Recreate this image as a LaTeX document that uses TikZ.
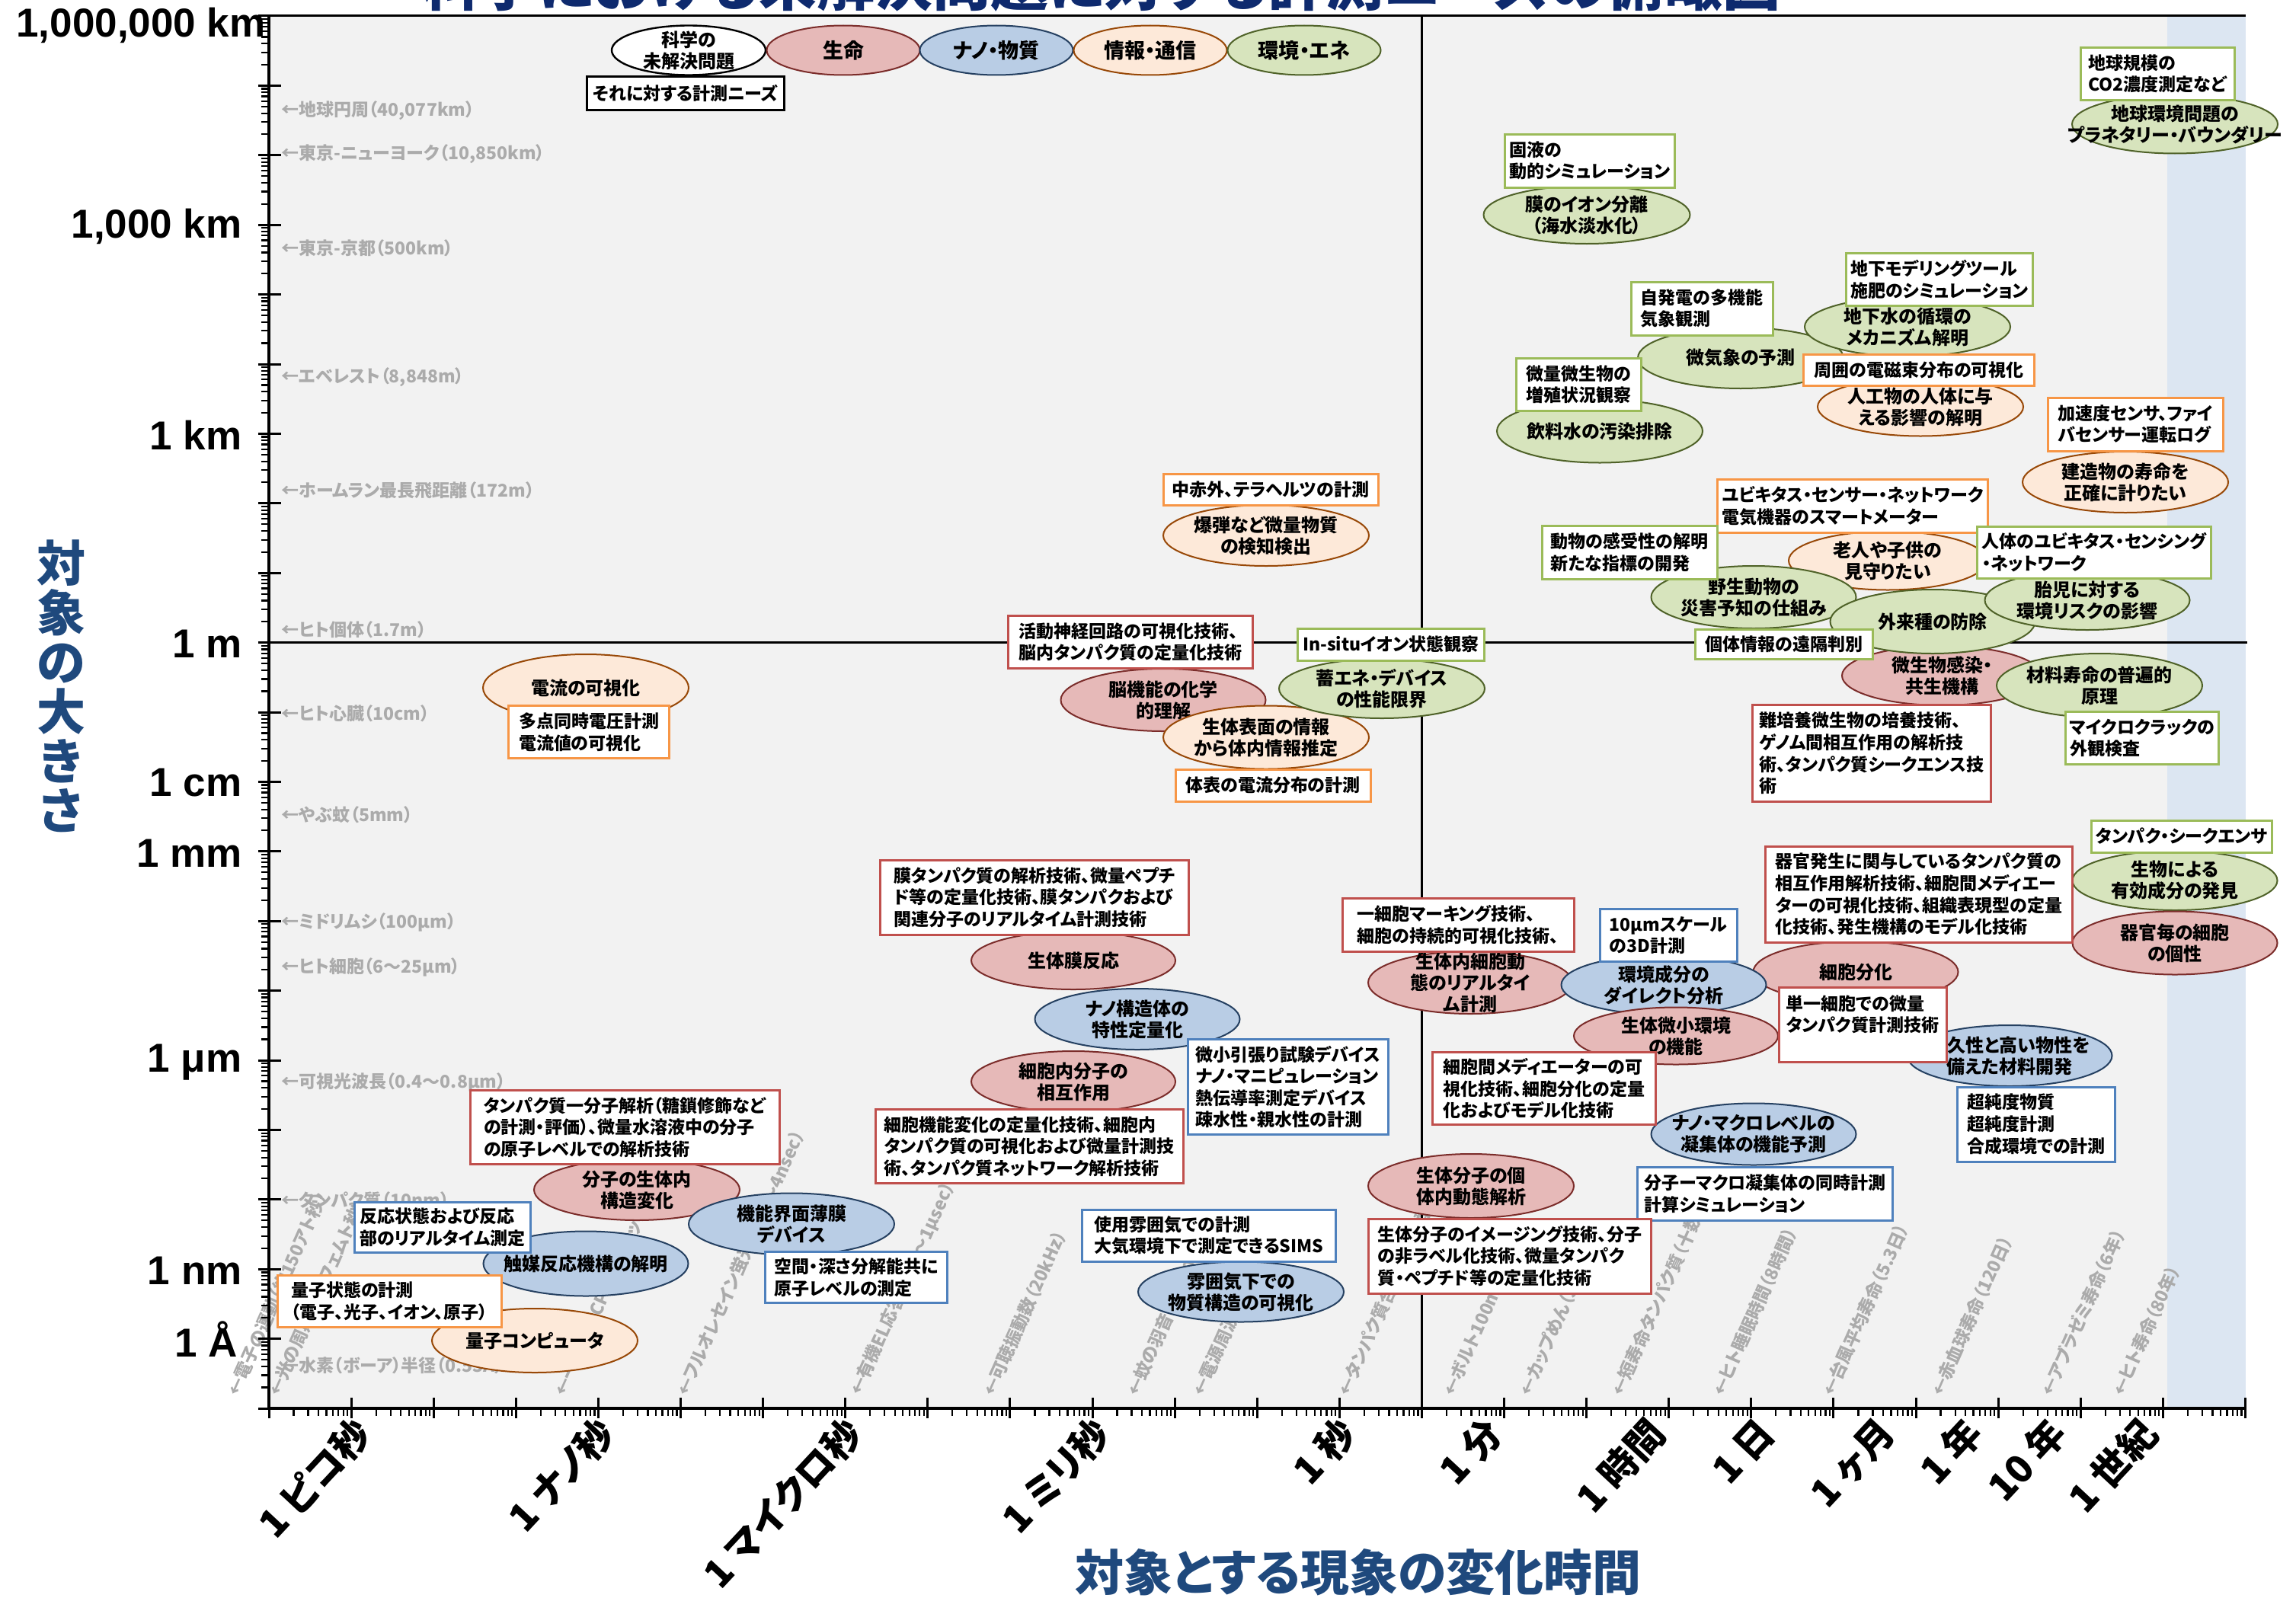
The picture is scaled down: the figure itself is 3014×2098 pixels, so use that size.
\documentclass[tikz,border=0pt]{standalone}
\usepackage{fontspec}
\setmainfont{Noto Sans CJK JP}[RawFeature=+palt]
\newfontfamily\latinfont{Liberation Sans}
\usetikzlibrary{shapes.geometric}
\definecolor{bggray}{HTML}{F2F2F2}
\definecolor{band}{HTML}{DCE6F2}
\definecolor{pinkF}{HTML}{E6B9B8}
\definecolor{pinkD}{HTML}{7B2C2A}
\definecolor{blueF}{HTML}{B9CDE5}
\definecolor{blueD}{HTML}{254061}
\definecolor{peachF}{HTML}{FDE9D9}
\definecolor{peachD}{HTML}{984807}
\definecolor{greenF}{HTML}{D7E4BD}
\definecolor{greenD}{HTML}{4F6228}
\definecolor{bRed}{HTML}{C0504D}
\definecolor{bBlue}{HTML}{4F81BD}
\definecolor{bOrange}{HTML}{F79646}
\definecolor{bGreen}{HTML}{9BBB59}
\definecolor{annot}{HTML}{ABABAB}
\definecolor{axisnavy}{HTML}{1F497D}
\definecolor{titlenavy}{HTML}{0E2A6E}
\newcommand\elfont{\bfseries\fontsize{12}{14}\selectfont}
\newcommand\bxfont{\bfseries\fontsize{11.5}{14.3}\selectfont}
\newcommand\anfont{\bfseries\fontsize{11.5}{13}\selectfont}
\newcommand\ylabfont{\latinfont\bfseries\fontsize{26.5}{28}\selectfont}
\newcommand\xlabfont{\bfseries\fontsize{25}{27}\selectfont}
\newcommand\axlabfont{\bfseries\fontsize{32}{32.5}\selectfont}
\newcommand\mkell[7]{\node[ell,#2,minimum width=#5pt/2,minimum height=#6pt/2] (#1) at (#3,#4) {};\node[etxt] (#1t) at (#1.center) {#7};}
\newcommand\mkbox[7]{\node[bx,draw=#2,minimum width=#5pt/2,minimum height=#6pt/2] (#1) at (#3,#4) {#7};}
\begin{document}
\begin{tikzpicture}[x=0.5pt,y=-0.5pt,
  ell/.style={ellipse,inner sep=0pt,line width=1pt},
  pk/.style={fill=pinkF,draw=pinkD},
  bl/.style={fill=blueF,draw=blueD},
  pc/.style={fill=peachF,draw=peachD},
  gr/.style={fill=greenF,draw=greenD},
  wh/.style={fill=white,draw=black,line width=1.2pt},
  etxt/.style={align=center,inner sep=0pt,font=\elfont},
  bx/.style={rectangle,fill=white,line width=1.5pt,align=left,inner xsep=3pt,inner ysep=1.5pt,font=\bxfont},
  annot/.style={text=annot,inner sep=0pt,font=\anfont},
  ylab/.style={anchor=east,inner sep=0pt,font=\ylabfont},
  xlab/.style={anchor=east,rotate=47,inner sep=0pt,font=\xlabfont},
  axlab/.style={text=axisnavy,font=\axlabfont,inner sep=0pt},
  rann/.style={annot,rotate=66,anchor=west}]
\useasboundingbox (0,0) rectangle (3014,2098);
% title (cut off at top)
\node[anchor=base,text=titlenavy,font=\bfseries\fontsize{38}{40}\selectfont,inner sep=0pt] (title) at (1446,8) {科学における未解決問題に対する計測ニーズの俯瞰図};
% plot background
\fill[bggray] (353,21) rectangle (2845,1849);
\fill[band] (2845,21) rectangle (2948,1849);
% gray reference annotations (size)
\node[annot,anchor=west] (ya1) at (369,145) {←地球円周（40,077km）};
\node[annot,anchor=west] (ya2) at (369,202) {←東京-ニューヨーク（10,850km）};
\node[annot,anchor=west] (ya3) at (369,326) {←東京-京都（500km）};
\node[annot,anchor=west] (ya4) at (369,495) {←エベレスト（8,848m）};
\node[annot,anchor=west] (ya5) at (369,644) {←ホームラン最長飛距離（172m）};
\node[annot,anchor=west] (ya6) at (369,827) {←ヒト個体（1.7m）};
\node[annot,anchor=west] (ya7) at (369,937) {←ヒト心臓（10cm）};
\node[annot,anchor=west] (ya8) at (369,1070) {←やぶ蚊（5mm）};
\node[annot,anchor=west] (ya9) at (369,1211) {←ミドリムシ（100μm）};
\node[annot,anchor=west] (ya10) at (369,1270) {←ヒト細胞（6～25μm）};
\node[annot,anchor=west] (ya11) at (369,1421) {←可視光波長（0.4～0.8μm）};
\node[annot,anchor=west] (ya12) at (369,1576) {←タンパク質（10nm）};
\node[annot,anchor=west] (ya13) at (369,1791) {←水素（ボーア）半径（0.53Å）};
% gray reference annotations (time)
\node[rann] (xa1) at (305,1831) {←電子の運動（約150アト秒）};
\node[rann] (xa2) at (359,1831) {←光の周期（約2フェムト秒）};
\node[rann] (xa3) at (734,1831) {←一般的なCPUのクロック周波数（3GHz）};
\node[rann] (xa4) at (895,1831) {←フルオレセイン蛍光寿命（～4nsec）};
\node[rann] (xa5) at (1123,1831) {←有機EL応答速度（～1μsec）};
\node[rann] (xa6) at (1297,1831) {←可聴振動数（20kHz）};
\node[rann] (xa7) at (1486,1831) {←蚊の羽音（約600Hz）};
\node[rann] (xa8) at (1572,1831) {←電源周波数（50Hz）};
\node[rann] (xa9) at (1763,1831) {←タンパク質合成（アミノ酸1個）};
\node[rann] (xa10) at (1901,1831) {←ボルト100m（9.58秒）};
\node[rann] (xa11) at (2001,1831) {←カップめん（3分）};
\node[rann] (xa12) at (2122,1831) {←短寿命タンパク質（十数分）};
\node[rann] (xa13) at (2255,1831) {←ヒト睡眠時間（8時間）};
\node[rann] (xa14) at (2399,1831) {←台風平均寿命（5.3日）};
\node[rann] (xa15) at (2542,1831) {←赤血球寿命（120日）};
\node[rann] (xa16) at (2686,1831) {←アブラゼミ寿命（6年）};
\node[rann] (xa17) at (2780,1831) {←ヒト寿命（80年）};
% quadrant lines and frame
\draw[line width=1.5pt] (353,21) -- (2948,21);
\draw[line width=1.5pt] (1866,21) -- (1866,1849);
\draw[line width=1.5pt] (353,843.6) -- (2950,843.6);
% axes
\draw[line width=1.8pt] (353,21) -- (353,1849) -- (2948,1849);
\foreach \L in {-11,...,9}{\pgfmathsetmacro\yy{21+(9-\L)*91.4}\draw[line width=1.5pt] (339,\yy) -- (369,\yy);}
\foreach \L in {-11,...,8}{\foreach \k in {2,...,9}{\pgfmathsetmacro\yy{21+(9-\L-log10(\k))*91.4}\draw[line width=1.1pt] (343,\yy) -- (353,\yy);}}
\foreach \D in {-13,...,11}{\pgfmathsetmacro\xx{353+(\D+13)*108.1}\draw[line width=1.5pt] (\xx,1835) -- (\xx,1862);}
\foreach \D in {-13,...,10}{\foreach \k in {2,...,9}{\pgfmathsetmacro\xx{353+(\D+13+log10(\k))*108.1}\draw[line width=1.1pt] (\xx,1849) -- (\xx,1859);}}
% y tick labels
\node[ylab] (yl1) at (349,33) {1,000,000 km};
\node[ylab] (yl2) at (318,297) {1,000 km};
\node[ylab] (yl3) at (318,571) {1 km};
\node[ylab] (yl4) at (318,845) {1 m};
\node[ylab] (yl5) at (318,1028) {1 cm};
\node[ylab] (yl6) at (318,1120) {1 mm};
\node[ylab] (yl7) at (318,1395) {1 μm};
\node[ylab] (yl8) at (318,1668) {1 nm};
\node[ylab] (yl9) at (312,1758) {1 Å};
% x tick labels
\node[xlab] (xl1) at (477,1872) {1 ピコ秒};
\node[xlab] (xl2) at (797,1872) {1 ナノ秒};
\node[xlab] (xl3) at (1122,1872) {1 マイクロ秒};
\node[xlab] (xl4) at (1447,1872) {1 ミリ秒};
\node[xlab] (xl5) at (1770,1872) {1 秒};
\node[xlab] (xl6) at (1962,1872) {1 分};
\node[xlab] (xl7) at (2176,1872) {1 時間};
\node[xlab] (xl8) at (2320,1872) {1 日};
\node[xlab] (xl9) at (2478,1872) {1 ヶ月};
\node[xlab] (xl10) at (2592,1872) {1 年};
\node[xlab] (xl11) at (2702,1872) {10 年};
\node[xlab] (xl12) at (2822,1872) {1 世紀};
% axis titles
\node[axlab,align=center] (ytitle) at (80,901) {対\\象\\の\\大\\き\\さ};
\node[axlab] (xtitle) at (1783,2064) {対象とする現象の変化時間};
% legend
\mkbox{lgb}{black}{900}{123}{259}{44}{それに対する計測ニーズ}
\mkell{lg1}{wh}{904}{66}{202}{65}{科学の\\未解決問題}
\mkell{lg2}{pk}{1107}{66}{201}{65}{\fontsize{13.5}{15}\selectfont 生命}
\mkell{lg3}{bl}{1308}{66}{201}{65}{\fontsize{13.5}{15}\selectfont ナノ・物質}
\mkell{lg4}{pc}{1510}{66}{201}{65}{\fontsize{13.5}{15}\selectfont 情報・通信}
\mkell{lg5}{gr}{1712}{66}{201}{65}{\fontsize{13.5}{15}\selectfont 環境・エネ}
% ---- top-left quadrant
\mkell{e1}{pc}{769}{903}{270}{88}{電流の可視化}
\mkbox{b1}{bOrange}{773}{961}{211}{69}{多点同時電圧計測\\電流値の可視化}
\mkell{e13}{pc}{1662}{703}{270}{80}{爆弾など微量物質\\の検知検出}
\mkbox{b13}{bOrange}{1668}{643}{282}{41}{中赤外、テラヘルツの計測}
\mkell{e10}{pk}{1527}{919}{269}{82}{脳機能の化学\\的理解}
\mkell{e11}{pc}{1662}{968}{270}{83}{生体表面の情報\\から体内情報推定}
\mkell{e12}{gr}{1814}{904}{270}{78}{蓄エネ・デバイス\\の性能限界}
\mkbox{b10}{bRed}{1484}{843}{321}{69}{活動神経回路の可視化技術、\\脳内タンパク質の定量化技術}
\mkbox{b11}{bOrange}{1671}{1031}{256}{42}{体表の電流分布の計測}
\mkbox{b12}{bGreen}{1826}{846}{245}{42}{In-situイオン状態観察}
% ---- bottom-left quadrant
\mkell{e9}{pk}{1409}{1261}{268}{76}{生体膜反応}
\mkbox{b9}{bRed}{1358}{1178}{405}{98}{膜タンパク質の解析技術、微量ペプチ\\ド等の定量化技術、膜タンパクおよび\\関連分子のリアルタイム計測技術}
\mkell{e8}{bl}{1493}{1338}{269}{80}{ナノ構造体の\\特性定量化}
\mkell{e6}{pk}{1409}{1420}{268}{80}{細胞内分子の\\相互作用}
\mkbox{b8}{bBlue}{1691}{1427}{263}{125}{微小引張り試験デバイス\\ナノ・マニピュレーション\\熱伝導率測定デバイス\\疎水性・親水性の計測}
\mkbox{b6}{bRed}{1351}{1505}{404}{97}{細胞機能変化の定量化技術、細胞内\\タンパク質の可視化および微量計測技\\術、タンパク質ネットワーク解析技術}
\mkell{e7}{bl}{1629}{1696}{270}{79}{雰囲気下での\\物質構造の可視化}
\mkbox{b7}{bBlue}{1587}{1622}{333}{68}{使用雰囲気での計測\\大気環境下で測定できるSIMS}
\mkell{e2}{pk}{836}{1562}{270}{80}{分子の生体内\\構造変化}
\mkbox{b2}{bRed}{820}{1480}{406}{97}{タンパク質一分子解析（糖鎖修飾など\\の計測・評価）、微量水溶液中の分子\\の原子レベルでの解析技術}
\mkell{e5}{bl}{1039}{1607}{270}{81}{機能界面薄膜\\デバイス}
\mkbox{b5}{bBlue}{1124}{1677}{239}{67}{空間・深さ分解能共に\\原子レベルの測定}
\mkell{e3}{bl}{769}{1659}{269}{85}{触媒反応機構の解明}
\mkbox{b3}{bBlue}{581}{1611}{231}{66}{反応状態および反応\\部のリアルタイム測定}
\mkell{e4}{pc}{702}{1760}{270}{84}{量子コンピュータ}
\mkbox{b4}{bOrange}{511}{1708}{294}{68}{量子状態の計測\\（電子、光子、イオン、原子）}
% ---- top-right quadrant
\mkell{e14}{gr}{2083}{282}{271}{76}{膜のイオン分離\\（海水淡水化）}
\mkbox{b14}{bGreen}{2087}{211}{219}{70}{固液の\\動的シミュレーション}
\mkell{e15}{gr}{2285}{470}{270}{80}{微気象の予測}
\mkbox{b15}{bGreen}{2234}{405}{186}{70}{自発電の多機能\\気象観測}
\mkell{e16}{gr}{2100}{566}{270}{83}{飲料水の汚染排除}
\mkbox{b16}{bGreen}{2072}{505}{164}{69}{微量微生物の\\増殖状況観察}
\mkell{e17}{gr}{2504}{429}{270}{78}{地下水の循環の\\メカニズム解明}
\mkbox{b17}{bGreen}{2546}{367}{239}{69}{地下モデリングツール\\施肥のシミュレーション}
\mkell{e18}{pc}{2521}{534}{270}{77}{人工物の人体に与\\える影響の解明}
\mkbox{b18}{bOrange}{2519}{486}{303}{41}{周囲の電磁束分布の可視化}
\mkell{e19}{gr}{2855}{163}{270}{77}{地球環境問題の\\プラネタリー・バウンダリー}
\mkbox{b19}{bGreen}{2832}{97}{202}{69}{地球規模の\\CO2濃度測定など}
\mkell{e20}{pc}{2790}{633}{270}{80}{建造物の寿命を\\正確に計りたい}
\mkbox{b20}{bOrange}{2803}{557}{230}{70}{加速度センサ、ファイ\\バセンサー運転ログ}
\mkell{e21}{pc}{2478}{736}{260}{77}{老人や子供の\\見守りたい}
\mkell{e22}{gr}{2302}{784}{269}{82}{野生動物の\\災害予知の仕組み}
\mkell{e25}{pk}{2549}{887}{262}{78}{微生物感染・\\共生機構}
\mkell{e24}{gr}{2537}{816}{269}{84}{外来種の防除}
\mkell{e23}{gr}{2740}{788}{269}{78}{胎児に対する\\環境リスクの影響}
\mkell{e26}{gr}{2756}{900}{270}{84}{材料寿命の普遍的\\原理}
\mkbox{b21}{bOrange}{2432}{664}{342}{70}{ユビキタス・センサー・ネットワーク\\電気機器のスマートメーター}
\mkbox{b22}{bGreen}{2139}{725}{230}{70}{動物の感受性の解明\\新たな指標の開発}
\mkbox{b23}{bGreen}{2749}{725}{307}{68}{人体のユビキタス・センシング\\・ネットワーク}
\mkbox{b24}{bGreen}{2342}{846}{233}{39}{個体情報の遠隔判別}
\mkbox{b25}{bRed}{2457}{989}{313}{127}{難培養微生物の培養技術、\\ゲノム間相互作用の解析技\\術、タンパク質シークエンス技\\術}
\mkbox{b26}{bGreen}{2812}{969}{197}{69}{マイクロクラックの\\外観検査}
% ---- bottom-right quadrant
\mkell{e27}{gr}{2855}{1156}{269}{78}{生物による\\有効成分の発見}
\mkbox{b27}{bGreen}{2864}{1098}{237}{42}{タンパク・シークエンサ}
\mkell{e28}{pk}{2855}{1238}{269}{83}{器官毎の細胞\\の個性}
\mkell{e29}{pk}{2436}{1276}{269}{80}{細胞分化}
\mkbox{b28}{bRed}{2519}{1174}{403}{126}{器官発生に関与しているタンパク質の\\相互作用解析技術、細胞間メディエー\\ターの可視化技術、組織表現型の定量\\化技術、発生機構のモデル化技術}
\mkell{e33}{pk}{1930}{1290}{268}{82}{生体内細胞動\\態のリアルタイ\\ム計測}
\mkbox{b34}{bRed}{1914}{1214}{304}{70}{一細胞マーキング技術、\\細胞の持続的可視化技術、}
\mkell{e34}{bl}{2184}{1293}{269}{78}{環境成分の\\ダイレクト分析}
\mkbox{b35}{bBlue}{2190}{1228}{180}{69}{10μmスケール\\の3D計測}
\mkell{e35}{pk}{2200}{1360}{268}{75}{生体微小環境\\の機能}
\mkell{e30}{bl}{2638}{1386}{269}{80}{耐久性と高い物性を\\備えた材料開発}
\mkbox{b29}{bRed}{2445}{1345}{220}{98}{単一細胞での微量\\タンパク質計測技術\\\mbox{}}
\mkbox{b30}{bBlue}{2673}{1476}{207}{98}{超純度物質\\超純度計測\\合成環境での計測}
\mkell{e31}{bl}{2302}{1489}{269}{81}{ナノ・マクロレベルの\\凝集体の機能予測}
\mkbox{b31}{bBlue}{2317}{1567}{335}{70}{分子ーマクロ凝集体の同時計測\\計算シミュレーション}
\mkbox{b32}{bRed}{2027}{1429}{293}{95}{細胞間メディエーターの可\\視化技術、細胞分化の定量\\化およびモデル化技術}
\mkell{e32}{pk}{1931}{1557}{270}{84}{生体分子の個\\体内動態解析}
\mkbox{b33}{bRed}{1982}{1649}{371}{98}{生体分子のイメージング技術、分子\\の非ラベル化技術、微量タンパク\\質・ペプチド等の定量化技術}
\end{tikzpicture}
\end{document}
